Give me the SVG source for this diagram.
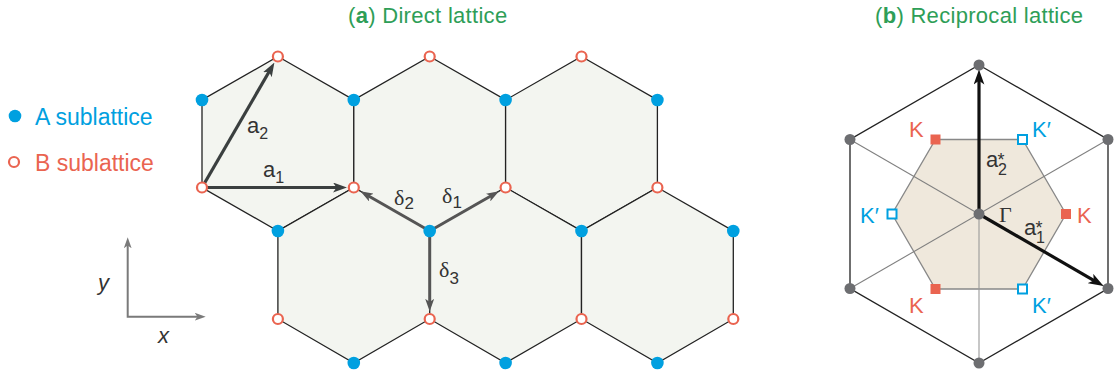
<svg xmlns="http://www.w3.org/2000/svg" width="1114" height="373" viewBox="0 0 1114 373">
<style>
text{font-family:"Liberation Sans",Arial,sans-serif;font-size:22px}
.serif{font-family:"Liberation Serif","Times New Roman",serif}
.title{fill:#2e9e57;letter-spacing:0.3px}
.blue{fill:#00a0e0}
.red{fill:#ea6450}
.dark{fill:#333}
.leg{font-size:23px}
.hex{fill:#f3f5f0;stroke:#222;stroke-width:1.3}
.A{fill:#00a0e0}
.B{fill:#fff;stroke:#ea6450;stroke-width:2.2}
.avec{stroke:#3a3f3f;stroke-width:3.2;fill:none}
.dvec{stroke:#555;stroke-width:3;fill:none}
.rvec{stroke:#111;stroke-width:3.2;fill:none}
.axis{stroke:#7a7a7a;stroke-width:2;fill:none}
.gdot{fill:#6d6e71}
.Ksq{fill:#ea6450}
.Kpsq{fill:#fff;stroke:#00a0e0;stroke-width:2}
.sm{font-size:16px}
.st{font-size:18px}
</style>
<defs>
<marker id="ha" markerUnits="userSpaceOnUse" viewBox="0 0 14 10" markerWidth="14" markerHeight="10" refX="8" refY="5" orient="auto"><path d="M0,0 L14,5 L0,10 L3.5,5 Z" fill="#3a3f3f"/></marker>
<marker id="hd" markerUnits="userSpaceOnUse" viewBox="0 0 14 10" markerWidth="13" markerHeight="9" refX="8" refY="5" orient="auto"><path d="M0,0 L14,5 L0,10 L3.5,5 Z" fill="#555"/></marker>
<marker id="hr" markerUnits="userSpaceOnUse" viewBox="0 0 14 10" markerWidth="15" markerHeight="11" refX="8" refY="5" orient="auto"><path d="M0,0 L14,5 L0,10 L3.5,5 Z" fill="#111"/></marker>
<marker id="hx" markerUnits="userSpaceOnUse" viewBox="0 0 14 10" markerWidth="11" markerHeight="8" refX="8" refY="5" orient="auto-start-reverse"><path d="M0,0 L14,5 L0,10 L3.5,5 Z" fill="#7a7a7a"/></marker>
</defs>

<g id="titles">
<text class="title" x="348" y="23">(<tspan font-weight="bold">a</tspan>) Direct lattice</text>
<text class="title" x="875" y="23">(<tspan font-weight="bold">b</tspan>) Reciprocal lattice</text>
</g>

<g id="legend">
<circle class="A" cx="15" cy="116" r="6.3"/>
<text class="blue leg" x="35" y="125">A sublattice</text>
<circle class="B" cx="14" cy="162" r="5"/>
<text class="red leg" x="35" y="171">B sublattice</text>
</g>

<g id="axes">
<path class="axis" d="M127.7,242 L127.7,316.7 L201,316.7" marker-start="url(#hx)" marker-end="url(#hx)"/>
<text class="dark" x="98" y="290" font-style="italic">y</text>
<text class="dark" x="158" y="343" font-style="italic">x</text>
</g>

<g id="direct-lattice">
<g id="hexagons">
<path class="hex" d="M277.9,56.5 L353.8,100 L353.8,187.5 L277.9,231 L202,187.5 L202,100 Z"/>
<path class="hex" d="M429.7,56.5 L505.6,100 L505.6,187.5 L429.7,231 L353.8,187.5 L353.8,100 Z"/>
<path class="hex" d="M581.5,56.5 L657.4,100 L657.4,187.5 L581.5,231 L505.6,187.5 L505.6,100 Z"/>
<path class="hex" d="M353.8,187.5 L429.7,231 L429.7,319 L353.8,363 L277.9,319 L277.9,231 Z"/>
<path class="hex" d="M505.6,187.5 L581.5,231 L581.5,319 L505.6,363 L429.7,319 L429.7,231 Z"/>
<path class="hex" d="M657.4,187.5 L733.3,231 L733.3,319 L657.4,363 L581.5,319 L581.5,231 Z"/>
</g>
<g id="vectors">
<line class="avec" x1="202" y1="187.5" x2="341" y2="187.5" marker-end="url(#ha)"/>
<line class="avec" x1="202" y1="187.5" x2="271.4" y2="67.8" marker-end="url(#ha)"/>
<line class="dvec" x1="429.7" y1="231" x2="494.3" y2="194" marker-end="url(#hd)"/>
<line class="dvec" x1="429.7" y1="231" x2="365.1" y2="194" marker-end="url(#hd)"/>
<line class="dvec" x1="429.7" y1="231" x2="429.7" y2="306" stroke-width="2.6" marker-end="url(#hd)"/>
</g>
<g id="A-atoms">
<circle class="A" cx="202" cy="100" r="6.3"/>
<circle class="A" cx="353.8" cy="100" r="6.3"/>
<circle class="A" cx="505.6" cy="100" r="6.3"/>
<circle class="A" cx="657.4" cy="100" r="6.3"/>
<circle class="A" cx="277.9" cy="231" r="6.3"/>
<circle class="A" cx="429.7" cy="231" r="6.3"/>
<circle class="A" cx="581.5" cy="231" r="6.3"/>
<circle class="A" cx="733.3" cy="231" r="6.3"/>
<circle class="A" cx="353.8" cy="363" r="6.3"/>
<circle class="A" cx="505.6" cy="363" r="6.3"/>
<circle class="A" cx="657.4" cy="363" r="6.3"/>
</g>
<g id="B-atoms">
<circle class="B" cx="277.9" cy="56.5" r="5"/>
<circle class="B" cx="429.7" cy="56.5" r="5"/>
<circle class="B" cx="581.5" cy="56.5" r="5"/>
<circle class="B" cx="202" cy="187.5" r="5"/>
<circle class="B" cx="353.8" cy="187.5" r="5"/>
<circle class="B" cx="505.6" cy="187.5" r="5"/>
<circle class="B" cx="657.4" cy="187.5" r="5"/>
<circle class="B" cx="277.9" cy="319" r="5"/>
<circle class="B" cx="429.7" cy="319" r="5"/>
<circle class="B" cx="581.5" cy="319" r="5"/>
<circle class="B" cx="733.3" cy="319" r="5"/>
</g>
<g id="vector-labels">
<text class="dark" x="247" y="133" font-size="23">a<tspan font-size="16" dy="6">2</tspan></text>
<text class="dark" x="263" y="177" font-size="23">a<tspan font-size="16" dy="6">1</tspan></text>
<text class="dark serif" x="394" y="205" font-size="27">δ<tspan font-family="Liberation Sans" font-size="17" dy="4">2</tspan></text>
<text class="dark serif" x="442" y="203" font-size="27">δ<tspan font-family="Liberation Sans" font-size="17" dy="5">1</tspan></text>
<text class="dark serif" x="439" y="277" font-size="27">δ<tspan font-family="Liberation Sans" font-size="17" dy="7">3</tspan></text>
</g>
</g>

<g id="reciprocal-lattice">
<path d="M979,65 L1108,139.5 L1108,288.5 L979,363 L850,288.5 L850,139.5 Z" fill="none" stroke="#222" stroke-width="1.3"/>
<path d="M1066,214 L1022.5,139.5 L935.5,139.5 L892,214 L935.5,289 L1022.5,289 Z" fill="#efe8dc" stroke="#888" stroke-width="1.3"/>
<g id="radial-lines" stroke="#808080" stroke-width="1.1">
<line x1="850" y1="139.5" x2="1108" y2="288.5"/>
<line x1="1108" y1="139.5" x2="850" y2="288.5"/>
<line x1="979" y1="65" x2="979" y2="363" stroke="#999"/>
</g>
<g id="reciprocal-vectors">
<line class="rvec" x1="979" y1="214" x2="979" y2="76" marker-end="url(#hr)"/>
<line class="rvec" x1="979" y1="214" x2="1098" y2="282.8" marker-end="url(#hr)"/>
</g>
<g id="G-points">
<circle class="gdot" cx="979" cy="214" r="5.5"/>
<circle class="gdot" cx="979" cy="65" r="5.5"/>
<circle class="gdot" cx="1108" cy="139.5" r="5.5"/>
<circle class="gdot" cx="1108" cy="288.5" r="5.5"/>
<circle class="gdot" cx="979" cy="363" r="5.5"/>
<circle class="gdot" cx="850" cy="288.5" r="5.5"/>
<circle class="gdot" cx="850" cy="139.5" r="5.5"/>
</g>
<g id="K-points">
<rect class="Ksq" x="930.5" y="134.5" width="10" height="10"/>
<rect class="Ksq" x="1061" y="209" width="10" height="10"/>
<rect class="Ksq" x="930.5" y="284" width="10" height="10"/>
<rect class="Kpsq" x="1018" y="135" width="9" height="9"/>
<rect class="Kpsq" x="887.5" y="209.5" width="9" height="9"/>
<rect class="Kpsq" x="1018" y="284.5" width="9" height="9"/>
</g>
<g id="reciprocal-labels">
<text class="red" x="909" y="137" font-size="23">K</text>
<text class="blue" x="1032" y="137" font-size="23">K′</text>
<text class="blue" x="860" y="223" font-size="23">K′</text>
<text class="red" x="1077" y="223" font-size="23">K</text>
<text class="red" x="909" y="313" font-size="23">K</text>
<text class="blue" x="1032" y="313" font-size="23">K′</text>
<text class="dark serif" x="999" y="222" font-size="23">Γ</text>
<text class="dark" x="986" y="167">a<tspan class="st" x="997.5" y="166">*</tspan><tspan class="sm" x="998" y="175">2</tspan></text>
<text class="dark" x="1024" y="235">a<tspan class="st" x="1035.5" y="234">*</tspan><tspan class="sm" x="1036" y="243">1</tspan></text>
</g>
</g>
</svg>
